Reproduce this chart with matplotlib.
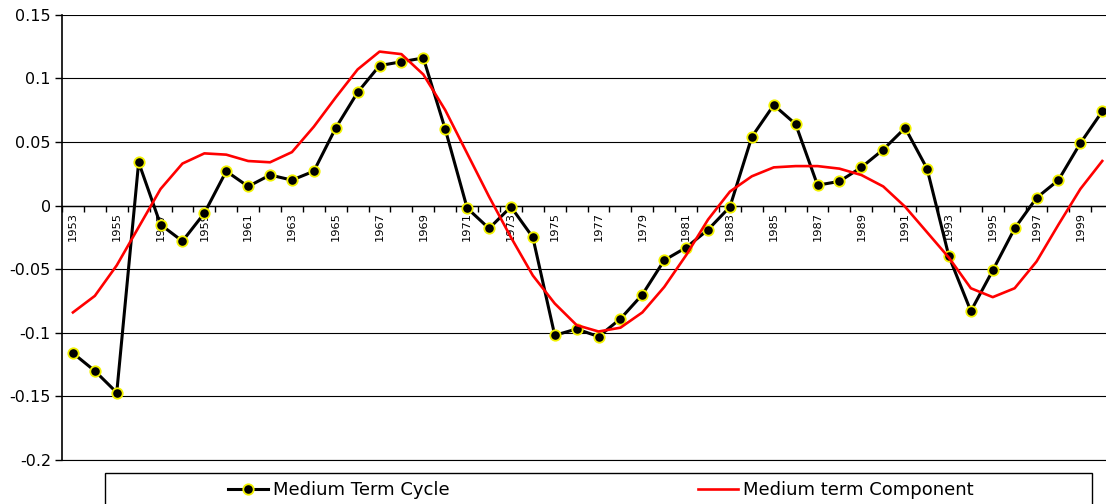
import numpy as np
import matplotlib
matplotlib.use("Agg")
import matplotlib.pyplot as plt
from matplotlib.patches import Rectangle
from matplotlib.ticker import FixedLocator, FuncFormatter

# ---- Data ----
years = list(range(1953, 2001))

cycle = [
    -0.116, -0.130, -0.147, 0.034, -0.015, -0.028, -0.006, 0.027,
    0.015, 0.024, 0.020, 0.027, 0.061, 0.089, 0.110, 0.113,
    0.116, 0.060, -0.002, -0.018, -0.001, -0.025, -0.102, -0.097,
    -0.103, -0.089, -0.070, -0.043, -0.033, -0.019, -0.001, 0.054,
    0.079, 0.064, 0.016, 0.019, 0.030, 0.044, 0.061, 0.029,
    -0.040, -0.083, -0.051, -0.018, 0.006, 0.020, 0.049, 0.074,
]

component = [
    -0.084, -0.071, -0.047, -0.017, 0.013, 0.033, 0.041, 0.040,
    0.035, 0.034, 0.042, 0.062, 0.085, 0.107, 0.121, 0.119,
    0.103, 0.075, 0.041, 0.007, -0.025, -0.055, -0.077, -0.094,
    -0.099, -0.096, -0.084, -0.064, -0.039, -0.011, 0.011, 0.023,
    0.030, 0.031, 0.031, 0.029, 0.024, 0.015, -0.001, -0.021,
    -0.041, -0.065, -0.072, -0.065, -0.044, -0.015, 0.013, 0.035,
]

y_ticks = [-0.2, -0.15, -0.1, -0.05, 0, 0.05, 0.1, 0.15]

# ---- Figure ----
W, H = 1106, 504
fig = plt.figure(figsize=(W / 100, H / 100), dpi=100)
plt.rcParams["font.family"] = ["DejaVu Sans"]

n = len(years)
ax = fig.add_axes([62 / W, (H - 460) / H, n * 21.9 / W, (460 - 14.7) / H])
x = np.arange(n)

ax.plot(x, cycle, color="black", lw=2.2, marker="o", ms=7.5,
        mfc="black", mec="#f2f200", mew=1.3, zorder=3,
        label="Medium Term Cycle")
ax.plot(x, component, color="red", lw=1.9, zorder=4,
        label="Medium term Component")

ax.set_xlim(-0.5, n - 0.5)
ax.set_ylim(-0.2, 0.15)

# y axis
ax.set_yticks(y_ticks)
ax.yaxis.set_major_formatter(FuncFormatter(lambda v, p: "%g" % round(v, 2)))
ax.tick_params(axis="y", direction="out", length=5, width=1, pad=3,
               labelsize=11.5, colors="black")
ax.grid(axis="y", color="black", lw=0.8)
ax.axhline(-0.2, color="black", lw=0.8, clip_on=False, zorder=1)
ax.set_axisbelow(True)

# x axis crosses at zero, ticks on category boundaries
for s in ["top", "right"]:
    ax.spines[s].set_visible(False)
ax.spines["left"].set_linewidth(1.2)
ax.spines["bottom"].set_position(("data", 0))
ax.spines["bottom"].set_linewidth(1.0)
ax.xaxis.set_major_locator(FixedLocator(np.arange(n + 1) - 0.5))
ax.xaxis.set_major_formatter(FuncFormatter(lambda v, p: ""))
ax.xaxis.set_minor_locator(FixedLocator(x[::2]))
ax.xaxis.set_minor_formatter(FuncFormatter(
    lambda v, p: str(years[int(round(v))])))
ax.tick_params(axis="x", which="major", direction="out", length=4, width=1)
ax.tick_params(axis="x", which="minor", length=0, pad=5, labelsize=8.2,
               labelrotation=90)

# ---- Legend ----
fig.add_artist(Rectangle((105 / W, -0.1), (1092 - 105) / W, 0.1 + (H - 473) / H,
                         transform=fig.transFigure, fill=False,
                         edgecolor="black", lw=1.0))
handles, labels = ax.get_legend_handles_labels()
for h, lab, x0 in [(handles[0], labels[0], 228), (handles[1], labels[1], 698)]:
    fig.legend([h], [lab], loc="center left", frameon=False,
               bbox_to_anchor=(x0 / W, 1 - 490 / H), borderpad=0,
               borderaxespad=0, handlelength=2.2, handletextpad=0.3,
               fontsize=13)

fig.savefig("out.png", dpi=100)
